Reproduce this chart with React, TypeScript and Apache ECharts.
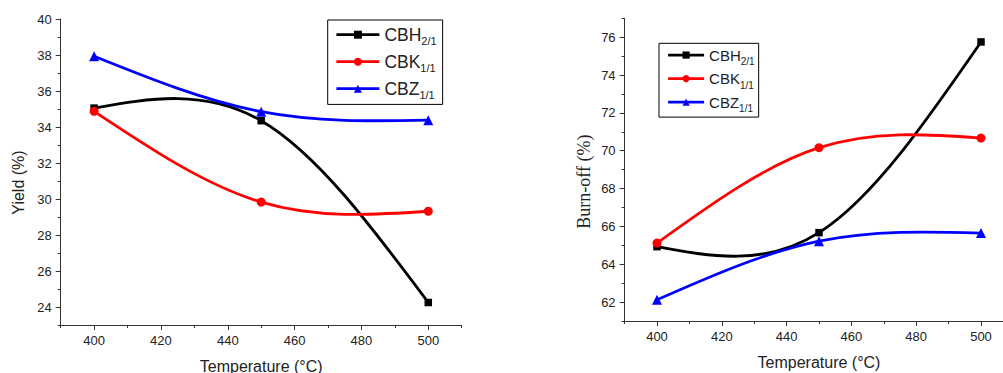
import React, { useEffect, useRef } from 'react';
import * as echarts from 'echarts';

// ---- data ----
const temperatures = [400, 450, 500];
const seriesBase = ['CBH', 'CBK', 'CBZ'];
const seriesSub = ['2/1', '1/1', '1/1'];
const yieldCBH = [35.05, 34.35, 24.25];
const yieldCBK = [34.87, 29.83, 29.32];
const yieldCBZ = [37.93, 34.85, 34.38];
const burnCBH = [64.93, 65.67, 75.75];
const burnCBK = [65.12, 70.16, 70.67];
const burnCBZ = [62.12, 65.22, 65.65];
const xTickLabels = [400, 420, 440, 460, 480, 500];
const yieldTickLabels = [24, 26, 28, 30, 32, 34, 36, 38, 40];
const burnTickLabels = [62, 64, 66, 68, 70, 72, 74, 76];

const colors = ['#000000', '#ff0000', '#0000ff'];
const symbols = ['rect', 'circle', 'triangle'];
const symbolSizes = [7.5, 9, 10];

const SANS = 'Liberation Sans, Arial, sans-serif';
const SERIF = 'Liberation Serif, Times New Roman, serif';
const axisColor = '#333';
const labelColor = '#222';
const LINE_W = 2.8;

const names = seriesBase.map((b, i) => b + seriesSub[i]);

// natural cubic spline: second derivatives at the nodes
function splineSecondDerivs(xs: number[], ys: number[]): number[] {
  const n = xs.length;
  const M = new Array(n).fill(0);
  if (n < 3) return M;
  const a: number[] = [], b: number[] = [], c: number[] = [], d: number[] = [];
  for (let i = 1; i < n - 1; i++) {
    const h0 = xs[i] - xs[i - 1];
    const h1 = xs[i + 1] - xs[i];
    a.push(h0);
    b.push(2 * (h0 + h1));
    c.push(h1);
    d.push(6 * ((ys[i + 1] - ys[i]) / h1 - (ys[i] - ys[i - 1]) / h0));
  }
  const m = b.length;
  for (let i = 1; i < m; i++) {
    const w = a[i] / b[i - 1];
    b[i] -= w * c[i - 1];
    d[i] -= w * d[i - 1];
  }
  const sol = new Array(m).fill(0);
  sol[m - 1] = d[m - 1] / b[m - 1];
  for (let i = m - 2; i >= 0; i--) sol[i] = (d[i] - c[i] * sol[i + 1]) / b[i];
  for (let i = 0; i < m; i++) M[i + 1] = sol[i];
  return M;
}

function mainX(grid: number, nameGap: number) {
  return {
    type: 'value', gridIndex: grid, min: 390, max: 510, position: 'bottom',
    name: 'Temperature (°C)', nameLocation: 'middle', nameGap,
    nameTextStyle: { fontFamily: SANS, fontSize: 16, color: labelColor },
    axisLine: { show: true, onZero: false, lineStyle: { color: axisColor, width: 1 } },
    axisTick: { show: true, customValues: xTickLabels, length: 5, lineStyle: { color: axisColor } },
    axisLabel: { show: true, customValues: xTickLabels, margin: 9, fontFamily: SANS, fontSize: 13, color: labelColor },
    splitLine: { show: false },
  };
}
function minorAxis(grid: number, min: number, max: number, position: string) {
  return {
    type: 'value', gridIndex: grid, min, max, interval: position === 'bottom' ? 10 : 1, position,
    axisLine: { show: false, onZero: false },
    axisTick: { show: true, length: 3, lineStyle: { color: axisColor } },
    axisLabel: { show: false },
    splitLine: { show: false },
  };
}
function mainY(grid: number, min: number, max: number, ticks: number[], name: string, nameGap: number, nameStyle: any) {
  return {
    type: 'value', gridIndex: grid, min, max, position: 'left',
    name, nameLocation: 'middle', nameGap, nameTextStyle: nameStyle,
    axisLine: { show: true, onZero: false, lineStyle: { color: axisColor, width: 1 } },
    axisTick: { show: true, customValues: ticks, length: 5, lineStyle: { color: axisColor } },
    axisLabel: { show: true, customValues: ticks, margin: 9, fontFamily: SANS, fontSize: 13, color: labelColor },
    splitLine: { show: false },
  };
}

function makeSeries(grid: number, values: number[][]) {
  const out: any[] = [];
  values.forEach((vals, i) => {
    const M = splineSecondDerivs(temperatures, vals);
    out.push({
      type: 'custom',
      name: names[i] + ' curve',
      coordinateSystem: 'cartesian2d',
      xAxisIndex: grid * 2,
      yAxisIndex: grid * 2,
      data: temperatures.map((t, k) => [t, vals[k]]),
      encode: { x: 0, y: 1 },
      z: 2 + i,
      silent: true,
      renderItem: (params: any, api: any) => {
        const k = params.dataIndex;
        if (k >= temperatures.length - 1) return { type: 'group', children: [] };
        const x0 = temperatures[k], x1 = temperatures[k + 1];
        const y0 = vals[k], y1 = vals[k + 1];
        const h = x1 - x0;
        const d0 = (y1 - y0) / h - (h * (2 * M[k] + M[k + 1])) / 6;
        const d1 = (y1 - y0) / h + (h * (M[k] + 2 * M[k + 1])) / 6;
        const p0 = api.coord([x0, y0]);
        const c1 = api.coord([x0 + h / 3, y0 + (d0 * h) / 3]);
        const c2 = api.coord([x1 - h / 3, y1 - (d1 * h) / 3]);
        const p1 = api.coord([x1, y1]);
        return {
          type: 'bezierCurve',
          shape: { x1: p0[0], y1: p0[1], cpx1: c1[0], cpy1: c1[1], cpx2: c2[0], cpy2: c2[1], x2: p1[0], y2: p1[1] },
          style: { stroke: colors[i], lineWidth: LINE_W, fill: 'none' },
        };
      },
    });
  });
  values.forEach((vals, i) => {
    out.push({
      type: 'line',
      name: names[i],
      xAxisIndex: grid * 2,
      yAxisIndex: grid * 2,
      data: temperatures.map((t, k) => [t, vals[k]]),
      symbol: symbols[i],
      symbolSize: symbolSizes[i],
      lineStyle: { color: colors[i], width: 0, opacity: 0 },
      itemStyle: { color: colors[i] },
      z: 6 + i,
    });
  });
  return out;
}

function makeLegend(left: number, top: number, big: boolean) {
  const fs = big ? 17.5 : 15;
  const sub = big ? 11 : 10;
  const L = big ? 22 : 18;
  return {
    show: true, orient: 'vertical', left, top,
    data: names, selectedMode: false,
    itemWidth: big ? 43 : 36, itemHeight: big ? 10 : 9, itemGap: big ? 3 : 0,
    padding: big ? [2.7, 6, 3.7, 7.3] : [0, 4, 3.3, 7.7],
    borderColor: '#000', borderWidth: 1,
    lineStyle: { width: LINE_W, opacity: 1 },
    formatter: (n: string) => {
      const i = names.indexOf(n);
      return '{a|' + seriesBase[i] + '}{b|' + seriesSub[i] + '}';
    },
    textStyle: {
      rich: {
        a: { fontFamily: SANS, fontSize: fs, lineHeight: L, verticalAlign: 'middle', color: labelColor },
        b: { fontFamily: SANS, fontSize: sub, lineHeight: L, padding: [big ? 13 : 13.5, 0, 0, 0], verticalAlign: 'middle', color: labelColor },
      },
    },
  };
}

export default function App() {
  const ref = useRef<HTMLDivElement>(null);
  useEffect(() => {
    if (!ref.current) return;
    const chart = echarts.init(ref.current, undefined, { renderer: 'svg' });
    chart.setOption({
      animation: false,
      backgroundColor: '#ffffff',
      grid: [
        { left: 60.7, top: 19, width: 401, height: 306, containLabel: false, outerBoundsMode: 'none' },
        { left: 624.6, top: 18.3, width: 388.8, height: 302.7, containLabel: false, outerBoundsMode: 'none' },
      ],
      xAxis: [
        mainX(0, 33),
        minorAxis(0, 390, 510, 'bottom'),
        mainX(1, 33),
        minorAxis(1, 390, 510, 'bottom'),
      ],
      yAxis: [
        mainY(0, 23, 40, yieldTickLabels, 'Yield (%)', 34, { fontFamily: SANS, fontSize: 16, color: labelColor, padding: [0, 21, 0, 0] }),
        minorAxis(0, 23, 40, 'left'),
        mainY(1, 61, 77, burnTickLabels, 'Burn-off (%)', 32, { fontFamily: SERIF, fontSize: 18, color: labelColor, padding: [0, 24, 0, 0] }),
        minorAxis(1, 61, 77, 'left'),
      ],
      legend: [makeLegend(327.7, 20, true), makeLegend(659, 43.3, false)],
      series: [
        ...makeSeries(0, [yieldCBH, yieldCBK, yieldCBZ]),
        ...makeSeries(1, [burnCBH, burnCBK, burnCBZ]),
      ],
    });
    return () => chart.dispose();
  }, []);
  return (
    <div style={{ position: 'fixed', left: 0, top: 0, width: 1003, height: 373, background: '#fff' }}>
      <div ref={ref} style={{ width: 1003, height: 373 }} />
    </div>
  );
}
